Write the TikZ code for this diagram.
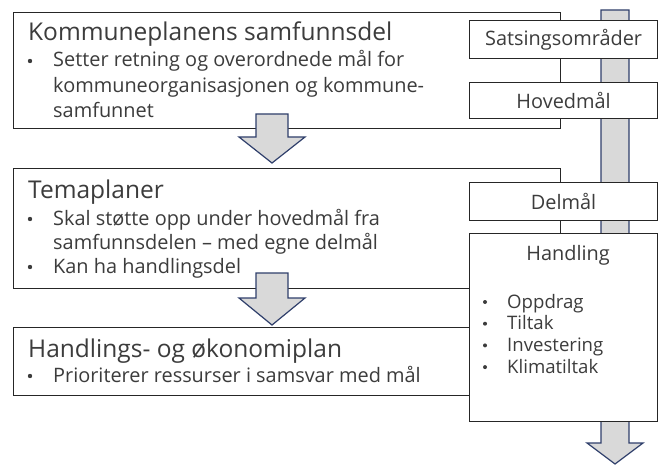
\documentclass[tikz,border=0pt]{standalone}
\usepackage{fontspec}
\setmainfont{Open Sans}
\usetikzlibrary{positioning}
\definecolor{tekst}{HTML}{3C3C3C}
\definecolor{pilgraa}{HTML}{D9D9D9}
\definecolor{pilkant}{HTML}{2F3F6B}
\begin{document}
\begin{tikzpicture}[x=1pt,y=-1pt,
	boks/.style={draw=black!85,line width=1.2pt,fill=white,anchor=north west,inner sep=0pt},
	tittel/.style={anchor=base west,inner sep=0pt,text=tekst,font=\fontsize{24.5}{28}\selectfont},
	punkt/.style={anchor=base west,inner sep=0pt,text=tekst,font=\fontsize{19.9}{24}\selectfont},
	liten/.style={anchor=base west,inner sep=0pt,text=tekst,font=\fontsize{18.6}{21}\selectfont},
	niva/.style={inner sep=0pt,text=tekst,font=\fontsize{19.9}{23}\selectfont},
	pil/.style={fill=pilgraa,draw=pilkant,line width=1.2pt,line join=miter}]
	\useasboundingbox (0,0) rectangle (658,465);
	% planene til venstre
	\node[boks,minimum width=547,minimum height=116] (ksd) at (13,12) {};
	\node[tittel] (ksdT) at (28,41) {Kommuneplanens samfunnsdel};
	\foreach \t [count=\i] in {Setter retning og overordnede mål for,kommuneorganisasjonen og kommune-,samfunnet}
		\node[punkt] (ksd\i) at (53,{67+25.5*(\i-1)}) {\t};
	\fill[tekst] (30,61) circle (2.2);
	\draw[pil] (256,114)--(288,114)--(288,137)--(305,137)--(272,163)--(239,137)--(256,137)--cycle;
	\node[boks,minimum width=547,minimum height=120] (tema) at (13,168) {};
	\node[tittel] (temaT) at (28,199) {Temaplaner};
	\foreach \t [count=\i] in {Skal støtte opp under hovedmål fra,samfunnsdelen – med egne delmål,Kan ha handlingsdel}
		\node[punkt] (tema\i) at (53,{225+24*(\i-1)}) {\t};
	\foreach \y in {219,267}\fill[tekst] (30,\y) circle (2.2);
	\draw[pil] (256,273)--(288,273)--(288,298)--(305,298)--(272,325)--(239,298)--(256,298)--cycle;
	\node[boks,minimum width=547,minimum height=68] (hop) at (13,327) {};
	\node[tittel] (hopT) at (28,357) {Handlings- og økonomiplan};
	\node[punkt] (hop1) at (53,382) {Prioriterer ressurser i samsvar med mål};
	\fill[tekst] (30,376) circle (2.2);
	% gjennomgaende pil
	\draw[pil] (601,10)--(629,10)--(629,443)--(643,443)--(615,464)--(587,443)--(601,443)--cycle;
	% nivaene til hoyre
	\node[boks,minimum width=188,minimum height=38] (sats) at (469,20) {};
	\node[boks,minimum width=188,minimum height=36] (hoved) at (469,82) {};
	\node[boks,minimum width=188,minimum height=38] (delm) at (469,182) {};
	\node[boks,minimum width=188,minimum height=188] (handl) at (469,233) {};
	\node[niva] at (sats) {Satsingsområder};
	\node[niva] at (hoved) {Hovedmål};
	\node[niva] at (delm) {Delmål};
	\node[niva,anchor=base] (handlT) at (568,260) {Handling};
	\foreach \t [count=\i] in {Oppdrag,Tiltak,Investering,Klimatiltak}{
		\node[liten] (handl\i) at (507,{308+21.7*(\i-1)}) {\t};
		\fill[tekst] (485,{302+21.7*(\i-1)}) circle (2);}
\end{tikzpicture}
\end{document}
